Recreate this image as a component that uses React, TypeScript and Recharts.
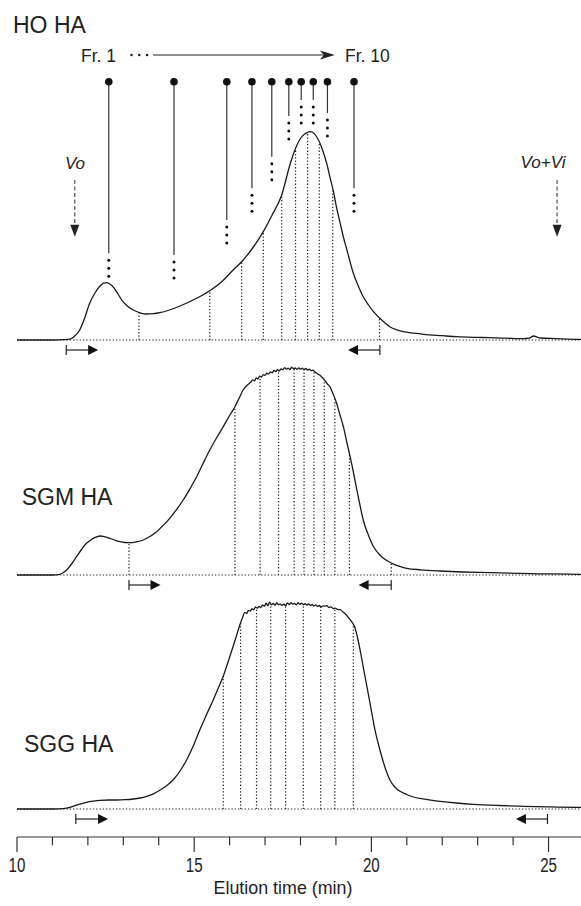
import React from 'react';
import { LineChart, Line, XAxis, YAxis, ReferenceLine } from 'recharts';

// ---------- HO HA (signal, arbitrary units) ----------
const hoTime = [10, 11, 11.3, 11.49, 11.63, 11.77, 11.91, 12.05, 12.2, 12.34, 12.51, 12.62, 12.71, 12.85, 12.99, 13.13, 13.28, 13.47, 13.66, 13.85, 14.03, 14.3, 14.6, 15.0, 15.44, 15.8, 16.1, 16.34, 16.65, 16.95, 17.2, 17.47, 17.7, 17.8, 17.9, 18.0, 18.1, 18.2, 18.27, 18.35, 18.45, 18.55, 18.65, 18.74, 18.83, 18.93, 19.02, 19.12, 19.21, 19.31, 19.4, 19.49, 19.63, 19.77, 19.92, 20.06, 20.24, 20.52, 20.7, 20.9, 21.2, 21.47, 22.0, 22.41, 23.0, 23.35, 23.8, 24.29, 24.45, 24.58, 24.68, 24.77, 25.2, 25.9, 26];
const hoSignal = [0, 0, 0.3, 0.8, 4, 10, 22, 36.7, 47, 54, 57.3, 56, 53.3, 46, 38.3, 33.5, 30, 27.2, 26, 26.3, 27.3, 30, 34, 40.5, 49.3, 59, 70, 78.3, 92, 108.3, 125, 145, 175, 186, 195, 201.5, 205.5, 207.7, 208.3, 207.5, 203.5, 196.7, 187, 176.7, 163, 148.3, 132, 116.7, 103, 90, 78, 66.7, 54, 43.3, 35, 28.3, 21.7, 13.3, 10.3, 8.3, 6.8, 5.7, 4.3, 3.3, 2.6, 2.3, 1.8, 1.3, 1.8, 4, 2.8, 2, 1.4, 0.7, 0.7];
const hoBoundaries = [13.44, 15.44, 16.34, 16.95, 17.47, 17.86, 18.2, 18.53, 18.91, 20.23];
const hoFractionCenters = [12.59, 14.43, 15.92, 16.63, 17.19, 17.67, 18.02, 18.36, 18.76, 19.51];
const hoPinEnds = [86.7, 85, 120, 151.7, 183.3, 224, 240, 240, 227, 151.7];
const hoPoolStart = [11.39, 12.29];
const hoPoolEnd = [20.24, 19.34];
const fractionArrow = [13.84, 18.97];
const voTime = 11.63;
const voViTime = 25.24;

// ---------- SGM HA ----------
const sgmTime = [10, 11, 11.16, 11.28, 11.4, 11.54, 11.68, 11.82, 11.96, 12.08, 12.19, 12.34, 12.48, 12.62, 12.76, 12.9, 13.04, 13.18, 13.37, 13.56, 13.75, 13.94, 14.12, 14.31, 14.5, 14.69, 14.88, 15.07, 15.25, 15.44, 15.63, 15.82, 16.0, 16.15, 16.27, 16.38, 16.5, 16.6, 16.65, 16.7, 16.75, 16.8, 16.85, 16.9, 16.95, 17.0, 17.05, 17.1, 17.15, 17.2, 17.25, 17.3, 17.35, 17.4, 17.45, 17.5, 17.55, 17.6, 17.65, 17.7, 17.75, 17.8, 17.85, 17.9, 17.95, 18.0, 18.05, 18.1, 18.15, 18.2, 18.25, 18.3, 18.35, 18.4, 18.45, 18.5, 18.55, 18.6, 18.64, 18.7, 18.76, 18.83, 18.92, 19.02, 19.11, 19.21, 19.3, 19.4, 19.5, 19.59, 19.68, 19.77, 19.92, 20.06, 20.2, 20.34, 20.58, 20.8, 21.0, 21.4, 21.94, 22.6, 23.35, 24.5, 25.9, 26];
const sgmSignal = [0, 0, 0.3, 1.8, 5, 11, 18.3, 25.5, 31.7, 35, 37.3, 39, 38.2, 36.7, 34.8, 33.3, 32.5, 32.3, 33.2, 35, 38.5, 43.3, 49.5, 56.7, 65.3, 75, 86.2, 98.3, 111.5, 125, 137, 148.3, 159.5, 168.3, 177, 185, 190, 193, 195.2, 194.1, 197, 196.2, 198.9, 198, 200.4, 199.6, 201.8, 200.9, 203.1, 202.2, 204.6, 203.5, 205.3, 204, 206.2, 205.1, 207.4, 205.8, 206.9, 205.5, 207.8, 206.3, 207, 205.6, 207.2, 205.9, 206.8, 205.4, 206.5, 205, 205.8, 204.4, 204.9, 203.3, 202, 200.6, 199.8, 198, 196.7, 194, 191, 188.3, 181, 171.7, 160.5, 148.3, 134, 118.3, 101.5, 85, 69.5, 55, 39.5, 28.3, 21.5, 16.7, 11.7, 8.7, 6.7, 5.2, 4, 3, 2.3, 1.4, 0.7, 0.6];
const sgmBoundaries = [13.16, 16.15, 16.86, 17.38, 17.82, 18.1, 18.38, 18.67, 18.97, 19.38, 20.56];
const sgmPoolStart = [13.16, 14.05];
const sgmPoolEnd = [20.56, 19.64];

// ---------- SGG HA ----------
const sggTime = [10, 11, 11.3, 11.44, 11.58, 11.77, 11.96, 12.15, 12.34, 12.58, 12.81, 13.05, 13.28, 13.47, 13.66, 13.85, 14.03, 14.22, 14.41, 14.6, 14.79, 14.98, 15.16, 15.35, 15.54, 15.68, 15.82, 15.96, 16.1, 16.2, 16.29, 16.36, 16.43, 16.48, 16.53, 16.58, 16.63, 16.68, 16.73, 16.78, 16.83, 16.88, 16.93, 16.98, 17.03, 17.08, 17.13, 17.18, 17.23, 17.28, 17.33, 17.38, 17.43, 17.48, 17.53, 17.58, 17.63, 17.68, 17.73, 17.78, 17.83, 17.88, 17.93, 17.98, 18.03, 18.08, 18.13, 18.18, 18.23, 18.28, 18.33, 18.38, 18.43, 18.48, 18.53, 18.58, 18.63, 18.68, 18.74, 18.8, 18.86, 18.92, 18.98, 19.04, 19.12, 19.2, 19.28, 19.35, 19.4, 19.47, 19.54, 19.61, 19.68, 19.75, 19.82, 19.89, 19.96, 20.03, 20.1, 20.19, 20.29, 20.4, 20.52, 20.66, 20.81, 21.0, 21.19, 21.55, 21.94, 22.4, 22.88, 23.6, 24.29, 25.0, 25.9, 26];
const sggSignal = [0, 0, 0.3, 1.2, 2.7, 4.8, 6.7, 7.9, 8.7, 9, 9, 9.3, 10, 11, 12.7, 15.2, 18.7, 23.3, 29.3, 38, 49.3, 63.5, 79.3, 94.5, 109.3, 121, 132.7, 147.5, 162.7, 174, 184.3, 191, 196.7, 195.5, 198.6, 197.9, 200.3, 199.2, 202, 200.8, 202.6, 201.5, 204, 202.7, 205.8, 203.4, 206.9, 204.2, 205.5, 203.8, 206, 204.3, 205.2, 203.6, 204.8, 203.2, 206.1, 204.5, 206.4, 204.9, 205.7, 204.1, 206.3, 204.6, 205.9, 204.2, 205.4, 203.8, 205.1, 203.5, 204.6, 203, 204.2, 202.6, 203.5, 202, 203.1, 202.8, 203.3, 201.5, 202.2, 200.4, 200.9, 199.6, 199.3, 197, 194.5, 191.5, 189.3, 186, 181, 171, 159.3, 146, 132.7, 119.5, 106, 92.5, 79.3, 66, 52.7, 40, 29.3, 22, 17.7, 14.5, 12, 9.6, 7.7, 6, 4.7, 3.5, 2.7, 2.1, 1.7, 1.7];
const sggBoundaries = [15.82, 16.31, 16.76, 17.16, 17.58, 18.08, 18.57, 18.97, 19.49];
const sggPoolStart = [11.66, 12.57];
const sggPoolEnd = [24.97, 24.08];

// ---------- axis ----------
const axisTicks = [10, 11, 12, 13, 14, 15, 16, 17, 18, 19, 20, 21, 22, 23, 24, 25, 26];
const labeledTicks = [10, 15, 20, 25];

const FONT = '"Liberation Sans", Arial, Helvetica, sans-serif';
const INK = '#1a1a1a';
const DOT_STROKE = { stroke: '#222', strokeWidth: 1.2, strokeDasharray: '1.3 2' };
const CHART_W = 590;
const MARGIN = { top: 0, right: 6, bottom: 0, left: 17 };

const toRows = (ts: number[], vs: number[]) => ts.map((t, i) => ({ t, v: vs[i] }));
const heightAt = (ts: number[], vs: number[], x: number) => {
  for (let i = 0; i < ts.length - 1; i++) {
    if (x >= ts[i] && x <= ts[i + 1]) {
      const f = (x - ts[i]) / (ts[i + 1] - ts[i]);
      return vs[i] + f * (vs[i + 1] - vs[i]);
    }
  }
  return 0;
};

const PinShape = (p: any) => (
  <g>
    <line x1={p.x1} y1={p.y1} x2={p.x2} y2={p.y2} stroke="#333" strokeWidth={1.2} />
    <circle cx={p.x1} cy={p.y1} r={3.8} fill="#111" />
    {[7, 15, 23].map((d) => (
      <circle key={d} cx={p.x2} cy={p.y2 + d} r={1.5} fill="#111" />
    ))}
  </g>
);

const FrArrowShape = (p: any) => (
  <g>
    {[-21.6, -13.8, -6].map((d) => (
      <circle key={d} cx={p.x1 + d} cy={p.y1} r={1.3} fill="#222" />
    ))}
    <line x1={p.x1} y1={p.y1} x2={p.x2 - 10} y2={p.y2} stroke="#222" strokeWidth={1.2} />
    <path d={`M${p.x2},${p.y2} L${p.x2 - 15},${p.y2 - 4.5} L${p.x2 - 11},${p.y2} L${p.x2 - 15},${p.y2 + 4.5} Z`} fill="#222" />
  </g>
);

const DropArrowShape = (p: any) => (
  <g>
    <line x1={p.x1} y1={p.y1} x2={p.x2} y2={p.y2 - 10} stroke="#555" strokeWidth={1.2} strokeDasharray="4 2.5" />
    <path d={`M${p.x2},${p.y2} L${p.x2 - 4.5},${p.y2 - 12} L${p.x2 + 4.5},${p.y2 - 12} Z`} fill="#222" />
  </g>
);

const PoolArrowShape = (p: any) => {
  const dir = p.x2 > p.x1 ? 1 : -1;
  return (
    <g>
      <line x1={p.x1} y1={p.y1 - 5} x2={p.x1} y2={p.y1 + 5} stroke="#222" strokeWidth={1.2} />
      <line x1={p.x1} y1={p.y1} x2={p.x2 - dir * 8} y2={p.y2} stroke="#222" strokeWidth={1.2} />
      <path d={`M${p.x2},${p.y2} L${p.x2 - dir * 10},${p.y2 - 5} L${p.x2 - dir * 10},${p.y2 + 5} Z`} fill="#111" />
    </g>
  );
};

const AxisTick = (p: any) => {
  const v = p.payload.value;
  const major = labeledTicks.includes(v);
  return (
    <g>
      <line x1={p.x} y1={p.y} x2={p.x} y2={p.y + (major ? 15 : 8.3)} stroke="#333" strokeWidth={1.2} />
      {major && (
        <text
          transform={`translate(${p.x},${p.y + 35}) scale(0.72,1)`}
          x={0}
          y={0}
          textAnchor="middle"
          fontSize={21}
          fill="#222"
          fontFamily={FONT}
        >
          {v}
        </text>
      )}
    </g>
  );
};

const POOL_Y = -10;

const panelMarks = (ts: number[], vs: number[], boundaries: number[], poolStart: number[], poolEnd: number[]) => [
  <ReferenceLine key="base" segment={[{ x: 10, y: 0 }, { x: 26, y: 0 }]} {...DOT_STROKE} />,
  ...boundaries.map((b) => (
    <ReferenceLine key={`b${b}`} segment={[{ x: b, y: 0 }, { x: b, y: heightAt(ts, vs, b) }]} {...DOT_STROKE} />
  )),
  <ReferenceLine key="ps" segment={[{ x: poolStart[0], y: POOL_Y }, { x: poolStart[1], y: POOL_Y }]} shape={PoolArrowShape} />,
  <ReferenceLine key="pe" segment={[{ x: poolEnd[0], y: POOL_Y }, { x: poolEnd[1], y: POOL_Y }]} shape={PoolArrowShape} />,
];

const Txt = ({ x, y, size, italic, anchor, sx = 1, children }: any) => (
  <div
    style={{
      position: 'absolute',
      left: x,
      top: y,
      transform: `translate(${anchor === 'middle' ? '-50%' : '0'}, -50%) scaleX(${sx})`,
      transformOrigin: anchor === 'middle' ? 'center center' : 'left center',
      fontSize: size,
      lineHeight: 1,
      fontFamily: FONT,
      fontStyle: italic ? 'italic' : 'normal',
      color: '#222',
      whiteSpace: 'nowrap',
    }}
  >
    {children}
  </div>
);

export default function App() {
  const hoRows = toRows(hoTime, hoSignal);
  const sgmRows = toRows(sgmTime, sgmSignal);
  const sggRows = toRows(sggTime, sggSignal);
  const PIN_TOP = 258.3;
  const FR_Y = 285;
  const DROP_TOP = 160;
  const DROP_BOTTOM = 103.3;

  return (
    <div style={{ position: 'fixed', left: 0, top: 0, width: 581, height: 906, overflow: 'hidden', background: '#fff' }}>
      <div style={{ position: 'absolute', left: 0, top: 0 }}>
        <LineChart width={CHART_W} height={360} data={hoRows} margin={MARGIN}>
          <XAxis type="number" dataKey="t" domain={[10, 26]} hide />
          <YAxis type="number" domain={[-20, 340]} hide />
          {panelMarks(hoTime, hoSignal, hoBoundaries, hoPoolStart, hoPoolEnd)}
          {hoFractionCenters.map((c, i) => (
            <ReferenceLine key={`pin${i}`} segment={[{ x: c, y: PIN_TOP }, { x: c, y: hoPinEnds[i] }]} shape={PinShape} />
          ))}
          <ReferenceLine segment={[{ x: fractionArrow[0], y: FR_Y }, { x: fractionArrow[1], y: FR_Y }]} shape={FrArrowShape} />
          <ReferenceLine segment={[{ x: voTime, y: DROP_TOP }, { x: voTime, y: DROP_BOTTOM }]} shape={DropArrowShape} />
          <ReferenceLine segment={[{ x: voViTime, y: DROP_TOP }, { x: voViTime, y: DROP_BOTTOM }]} shape={DropArrowShape} />
          <Line type="monotone" dataKey="v" stroke={INK} strokeWidth={1.3} dot={false} isAnimationActive={false} />
        </LineChart>
      </div>
      <div style={{ position: 'absolute', left: 0, top: 360 }}>
        <LineChart width={CHART_W} height={240} data={sgmRows} margin={MARGIN}>
          <XAxis type="number" dataKey="t" domain={[10, 26]} hide />
          <YAxis type="number" domain={[-25, 215]} hide />
          {panelMarks(sgmTime, sgmSignal, sgmBoundaries, sgmPoolStart, sgmPoolEnd)}
          <Line type="monotone" dataKey="v" stroke={INK} strokeWidth={1.3} dot={false} isAnimationActive={false} />
        </LineChart>
      </div>
      <div style={{ position: 'absolute', left: 0, top: 600 }}>
        <LineChart width={CHART_W} height={306} data={sggRows} margin={MARGIN}>
          <XAxis
            type="number"
            dataKey="t"
            domain={[10, 26]}
            ticks={axisTicks}
            interval={0}
            height={69}
            tickSize={0}
            tickMargin={0}
            tickLine={false}
            axisLine={{ stroke: '#333', strokeWidth: 1.2 }}
            tick={<AxisTick />}
          />
          <YAxis type="number" domain={[-28, 209]} hide />
          {panelMarks(sggTime, sggSignal, sggBoundaries, sggPoolStart, sggPoolEnd)}
          <Line type="monotone" dataKey="v" stroke={INK} strokeWidth={1.3} dot={false} isAnimationActive={false} />
        </LineChart>
      </div>

      <Txt x={13} y={25} size={23}>HO HA</Txt>
      <Txt x={21.7} y={497} size={23}>SGM HA</Txt>
      <Txt x={24} y={744} size={23}>SGG HA</Txt>
      <Txt x={81} y={55} size={19} sx={0.92}>Fr. 1</Txt>
      <Txt x={345} y={55} size={19} sx={0.92}>Fr. 10</Txt>
      <Txt x={75} y={163} size={17} italic anchor="middle">Vo</Txt>
      <Txt x={543} y={162} size={17} italic anchor="middle">Vo+Vi</Txt>
      <Txt x={282.7} y={887} size={19} sx={0.94} anchor="middle">Elution time (min)</Txt>
    </div>
  );
}
